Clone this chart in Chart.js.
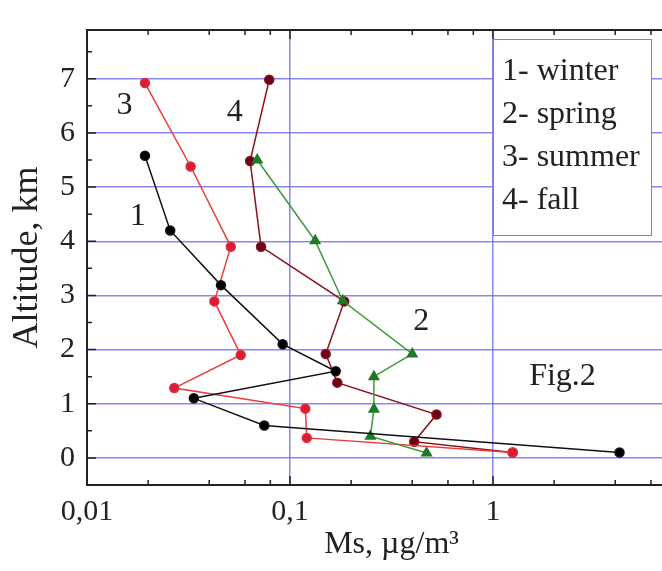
<!DOCTYPE html>
<html>
<head>
<meta charset="utf-8">
<script src="https://cdn.jsdelivr.net/npm/chart.js@4"></script>
<style>
  html, body { margin: 0; padding: 0; background: #fff; overflow: hidden; }
</style>
</head>
<body>
<canvas id="myChart1" width="720" height="571"></canvas>
<script>
const seasonNames = ["1- winter", "2- spring", "3- summer", "4- fall"]

// Ms (µg/m3) and altitude (km) for each season
const winterMs  = [0.0193, 0.0257, 0.0457, 0.092, 0.168, 0.0336, 0.0747, 4.2]
const winterAlt = [5.58, 4.2, 3.19, 2.1, 1.6, 1.1, 0.6, 0.1]

const springMs  = [0.069, 0.133, 0.182, 0.40, 0.259, 0.259, 0.249, 0.471]
const springAlt = [5.5, 4.01, 2.9, 1.92, 1.5, 0.9, 0.4, 0.09]

const summerMs  = [0.0193, 0.0324, 0.0511, 0.0424, 0.0572, 0.0269, 0.119, 0.121, 1.25]
const summerAlt = [6.92, 5.38, 3.9, 2.89, 1.9, 1.29, 0.91, 0.37, 0.1]

const fallMs  = [0.079, 0.0636, 0.072, 0.185, 0.150, 0.171, 0.527, 0.409, 1.25]
const fallAlt = [6.98, 5.48, 3.9, 2.89, 1.92, 1.39, 0.8, 0.3, 0.1]

// ticks
const xTickValues = [0.01, 0.02, 0.04, 0.06, 0.08, 0.1, 0.2, 0.4, 0.6, 0.8, 1, 2, 4, 6, 8, 10]
const yTickValues = [-0.5, 0, 0.5, 1, 1.5, 2, 2.5, 3, 3.5, 4, 4.5, 5, 5.5, 6, 6.5, 7, 7.5]

// curve numbers written next to the curves
const curveLabels   = ["3", "4", "1", "2", "Fig.2"]
const curveLabelMs  = [0.0153, 0.0535, 0.0178, 0.443, 2.2]
const curveLabelAlt = [6.5, 6.38, 4.46, 2.51, 1.5]

const serif = '"Liberation Serif", "Times New Roman", serif'
const gridBlue = 'rgba(105, 105, 235, 0.8)'

function pts(xs, ys) {
    return xs.map((v, i) => ({ x: v, y: ys[i] }))
}
function isDecade(v) {
    const l = Math.log10(v)
    return Math.abs(l - Math.round(l)) < 1e-9
}

const extras = {
    id: 'extras',
    afterDraw(chart) {
        const { ctx, chartArea: a, scales: { x, y } } = chart
        ctx.save()
        ctx.strokeStyle = '#222'
        ctx.lineWidth = 2
        ctx.beginPath()
        ctx.moveTo(a.left, a.top)
        ctx.lineTo(a.right, a.top)
        ctx.lineTo(a.right, a.bottom)
        ctx.stroke()

        // inward tick marks
        ctx.lineWidth = 1.5
        ctx.beginPath()
        x.ticks.forEach(t => {
            const px = x.getPixelForValue(t.value)
            const len = isDecade(t.value) ? 9 : 5
            ctx.moveTo(px, a.bottom); ctx.lineTo(px, a.bottom - len)
            ctx.moveTo(px, a.top); ctx.lineTo(px, a.top + len)
        })
        y.ticks.forEach(t => {
            const py = y.getPixelForValue(t.value)
            const len = Number.isInteger(t.value) ? 9 : 5
            ctx.moveTo(a.left, py); ctx.lineTo(a.left + len, py)
            ctx.moveTo(a.right, py); ctx.lineTo(a.right - len, py)
        })
        ctx.stroke()

        // curve numbers
        ctx.fillStyle = '#222'
        ctx.font = '32px ' + serif
        ctx.textAlign = 'center'
        ctx.textBaseline = 'middle'
        curveLabels.forEach((s, i) => {
            ctx.fillText(s, x.getPixelForValue(curveLabelMs[i]), y.getPixelForValue(curveLabelAlt[i]))
        })

        // legend box
        ctx.fillStyle = '#fff'
        ctx.fillRect(493, 39, 158, 196)
        ctx.strokeStyle = '#888'
        ctx.lineWidth = 1
        ctx.strokeRect(493.5, 39.5, 158, 196)
        ctx.fillStyle = '#222'
        ctx.textAlign = 'left'
        seasonNames.forEach((s, i) => {
            ctx.fillText(s, 502, 72 + i * 43)
        })
        ctx.restore()
    }
}

const data1 = {
    datasets: [
        {
            label: seasonNames[0],
            data: pts(winterMs, winterAlt),
            borderColor: '#111',
            backgroundColor: '#000',
            pointRadius: 4.5,
            borderWidth: 1.5
        },
        {
            label: seasonNames[1],
            data: pts(springMs, springAlt),
            borderColor: '#3f9a3f',
            backgroundColor: '#1e7a24',
            pointBorderColor: '#1e7a24',
            pointStyle: 'triangle',
            pointRadius: 5.5,
            borderWidth: 1.5
        },
        {
            label: seasonNames[2],
            data: pts(summerMs, summerAlt),
            borderColor: '#f03a3a',
            backgroundColor: '#d81e30',
            pointBorderColor: '#e03040',
            pointRadius: 4.5,
            borderWidth: 1.5
        },
        {
            label: seasonNames[3],
            data: pts(fallMs, fallAlt),
            borderColor: '#8a1020',
            backgroundColor: '#6a0018',
            pointBorderColor: '#8a1020',
            pointRadius: 4.5,
            borderWidth: 1.5
        }
    ]
}

const config1 = {
    type: 'scatter',
    data: data1,
    options: {
        responsive: false,
        animation: false,
        showLine: true,
        layout: {
            padding: { top: 11, right: 18, left: 0, bottom: 0 }
        },
        scales: {
            x: {
                type: 'logarithmic',
                min: 0.01,
                max: 10,
                afterBuildTicks: s => { s.ticks = xTickValues.map(v => ({ value: v })) },
                afterFit: s => { s.height = 86 },
                border: { display: true, color: '#222', width: 2 },
                grid: {
                    drawTicks: false,
                    lineWidth: 1.5,
                    color: c => (c.tick && isDecade(c.tick.value) && c.tick.value > 0.01) ? gridBlue : 'rgba(0,0,0,0)'
                },
                ticks: {
                    autoSkip: false,
                    maxRotation: 0,
                    minRotation: 0,
                    padding: 9,
                    color: '#222',
                    font: { family: serif, size: 30 },
                    callback: v => isDecade(v) ? String(v).replace('.', ',') : ''
                },
                title: {
                    display: true,
                    text: 'Ms, µg/m³',
                    color: '#222',
                    font: { family: serif, size: 32 },
                    padding: { top: 0, bottom: 7 }
                }
            },
            y: {
                min: -0.5,
                max: 7.9,
                afterBuildTicks: s => { s.ticks = yTickValues.map(v => ({ value: v })) },
                afterFit: s => { s.width = 87 },
                border: { display: true, color: '#222', width: 2 },
                grid: {
                    drawTicks: false,
                    lineWidth: 1.5,
                    color: c => (c.tick && Number.isInteger(c.tick.value) && c.tick.value >= 0) ? gridBlue : 'rgba(0,0,0,0)'
                },
                ticks: {
                    autoSkip: false,
                    padding: 12,
                    color: '#222',
                    font: { family: serif, size: 30 },
                    callback: v => (Number.isInteger(v) && v >= 0) ? String(v) : ''
                },
                title: {
                    display: true,
                    text: 'Altitude, km',
                    color: '#222',
                    font: { family: serif, size: 36 },
                    padding: { top: 6, bottom: 0 }
                }
            }
        },
        plugins: {
            legend: { display: false },
            tooltip: { enabled: false }
        }
    },
    plugins: [extras]
}

var myChart = new Chart(
    document.getElementById('myChart1'),
    config1
)
</script>
</body>
</html>
